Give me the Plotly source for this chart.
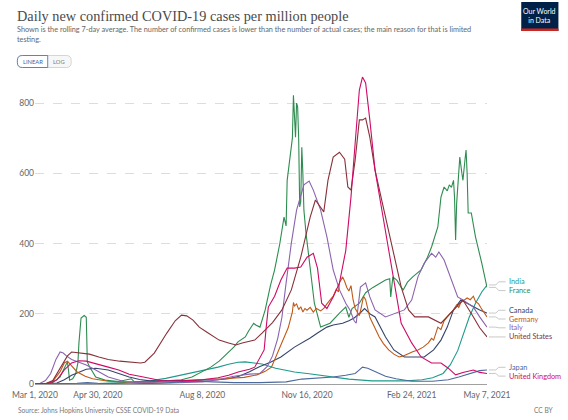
import pandas as pd
import plotly.graph_objects as go

# ---------------- data (day offsets from 2020-03-01, cases per million, 7-day avg) -------------
BASE_DATE = "2020-03-01"
END_DATE = "2021-05-07"

india_days = [0, 60, 90, 110, 125, 140, 155, 164, 175, 185, 194, 201, 210, 217, 230, 248, 262, 280,
              300, 322, 340, 355, 370, 380, 390, 397, 404, 409, 415, 421, 427, 432]
india_vals = [0, 1, 5, 9, 16, 25, 36, 40, 48, 56, 62, 63, 60, 57, 45, 34, 29, 22,
              14, 9, 8, 9, 12, 18, 30, 55, 95, 140, 190, 230, 262, 282]

france_days = [0, 10, 17, 24, 28, 31, 32, 33, 36, 39, 41, 42, 44, 47, 49, 50, 52, 58, 67, 80, 92,
               95, 110, 125, 140, 150, 160, 168, 176, 185, 190, 194, 201, 204, 209, 211, 215, 220,
               225, 229, 234, 238, 240, 241, 244, 246, 247, 248, 249, 250, 251, 252, 253, 254, 255,
               256, 257, 259, 262, 267, 273, 282, 291, 297, 300, 303, 310, 316, 323, 330, 335, 339,
               340, 342, 346, 350, 352, 356, 361, 369, 375, 379, 385, 388, 391, 394, 396, 398, 400,
               401, 402, 403, 405, 406, 408, 409, 411, 412, 413, 414, 417, 421, 427, 432]
france_vals = [0, 0.5, 4, 20, 45, 63, 40, 11, 15, 30, 60, 117, 188, 195, 190, 63, 50, 20, 11, 7, 15,
               6, 6, 8, 12, 20, 35, 48, 65, 91, 105, 120, 134, 150, 173, 168, 162, 211,
               280, 325, 400, 475, 450, 580, 646, 700, 822, 760, 703, 800, 790, 700, 504, 520, 674,
               600, 495, 430, 361, 230, 162, 173, 202, 219, 190, 215, 230, 260, 275, 288, 296, 300,
               248, 305, 295, 275, 268, 290, 305, 325, 360, 390, 447, 532, 561, 550, 567, 560, 580,
               530, 410, 515, 600, 646, 600, 580, 640, 666, 600, 487, 487, 419, 344, 275]

canada_days = [0, 14, 21, 28, 35, 42, 49, 58, 70, 80, 90, 100, 110, 125, 140, 160, 175, 185,
               195, 205, 215, 225, 235, 248, 256, 263, 270, 279, 285, 294, 300, 305, 310, 315,
               320, 325, 335, 343, 353, 363, 372, 381, 388, 394, 400, 407, 413, 419, 425, 432]
canada_vals = [0, 0.5, 3, 12, 25, 34, 42, 45, 40, 30, 20, 13, 9, 9, 10, 10, 12, 15,
               22, 35, 50, 62, 77, 105, 118, 131, 145, 162, 168, 173, 180, 188, 200, 215,
               200, 191, 134, 97, 77, 77, 77, 97, 125, 162, 211, 239, 230, 219, 211, 202]

germany_days = [0, 10, 17, 24, 28, 31, 34, 40, 48, 55, 61, 70, 85, 110, 140, 160, 180, 200, 212,
                220, 226, 232, 238, 242, 246, 247, 248, 250, 252, 254, 256, 258, 260, 263, 266,
                269, 273, 276, 279, 282, 285, 288, 290, 291, 293, 294, 296, 298, 300, 302, 304, 306,
                308, 310, 312, 314, 316, 318, 320, 324, 329, 333, 338, 343, 348, 352, 357, 361, 366,
                371, 376, 379, 381, 385, 388, 391, 394, 397, 400, 403, 405, 407, 410, 413, 416, 419,
                421, 424, 426, 429, 432]
germany_vals = [0, 1, 8, 35, 60, 65, 55, 35, 22, 15, 12, 8, 6, 5, 7, 13, 15, 19, 26,
                36, 48, 90, 130, 160, 205, 232, 222, 228, 212, 220, 205, 215, 210, 218, 205,
                215, 208, 215, 228, 240, 250, 270, 262, 288, 298, 305, 292, 275, 265, 280, 240, 215,
                205, 195, 220, 250, 240, 210, 190, 165, 134, 115, 97, 85, 77, 80, 88, 92, 97,
                105, 117, 130, 125, 162, 155, 180, 191, 200, 211, 225, 218, 232, 238, 245, 240, 250,
                235, 228, 218, 205, 191]

italy_days = [0, 5, 10, 15, 20, 24, 27, 30, 35, 42, 49, 58, 70, 85, 100, 130, 160, 175, 190, 205,
              215, 222, 227, 232, 236, 240, 245, 250, 257, 262, 266, 273, 279, 285, 291, 297, 301,
              305, 307, 311, 316, 320, 325, 335, 344, 353, 360, 366, 372, 379, 383, 386, 391, 397,
              404, 409, 414, 419, 425, 432]
italy_vals = [0.5, 2, 10, 30, 70, 91, 88, 80, 70, 62, 54, 40, 20, 7, 4, 3, 6, 12, 22, 28,
              30, 50, 80, 130, 190, 288, 401, 495, 567, 578, 552, 495, 419, 325, 268, 230, 211,
              180, 173, 276, 288, 248, 211, 191, 202, 211, 239, 305, 344, 372, 361, 376, 353, 305,
              248, 239, 228, 219, 191, 162]

us_days = [0, 10, 17, 24, 31, 35, 45, 52, 61, 70, 81, 90, 101, 105, 114, 126, 134, 140, 145, 151,
           157, 164, 176, 185, 192, 198, 210, 217, 227, 236, 245, 254, 263, 268, 273, 276, 280, 285,
           291, 296, 299, 302, 306, 310, 313, 316, 320, 325, 332, 338, 344, 350, 357, 363, 370, 376,
           388, 400, 409, 419, 425, 432]
us_vals = [0, 1, 10, 45, 80, 91, 88, 85, 77, 70, 65, 63, 60, 62, 88, 145, 180, 196, 194, 182,
           162, 148, 125, 117, 111, 117, 125, 145, 175, 211, 268, 361, 475, 524, 504, 490, 580, 646,
           660, 640, 561, 552, 638, 752, 752, 757, 703, 609, 515, 438, 353, 276, 211, 191, 191, 191,
           173, 211, 239, 191, 160, 134]

japan_days = [0, 30, 40, 50, 60, 90, 120, 140, 155, 170, 190, 215, 240, 255, 270, 285, 297, 306,
              310, 313, 318, 325, 335, 345, 360, 380, 395, 405, 415, 425, 432]
japan_vals = [0, 0.5, 2, 4, 2, 0.5, 2, 6, 8, 6, 4, 4, 6, 14, 17, 20, 25, 30,
              40, 48, 45, 35, 22, 15, 8, 8, 12, 20, 30, 38, 40]

uk_days = [0, 14, 21, 28, 35, 42, 49, 56, 63, 70, 80, 90, 100, 110, 120, 140, 160, 175, 185, 195,
           205, 210, 216, 219, 221, 223, 229, 235, 241, 248, 254, 260, 266, 270, 274, 279, 285, 291,
           297, 302, 306, 310, 313, 316, 320, 325, 332, 341, 350, 360, 369, 379, 388, 395, 402, 409,
           419, 425, 432]
uk_vals = [0, 2, 12, 40, 60, 66, 65, 60, 55, 48, 40, 28, 22, 15, 10, 9, 12, 18, 25, 35,
           42, 48, 80, 97, 162, 219, 250, 296, 330, 330, 333, 361, 372, 330, 230, 215, 248, 288,
           380, 532, 686, 837, 874, 857, 752, 609, 487, 325, 173, 117, 77, 60, 60, 45, 26, 33,
           40, 33, 30]

countries = ["India", "France", "Canada", "Germany", "Italy", "United States", "Japan", "United Kingdom"]
series_days = [india_days, france_days, canada_days, germany_days, italy_days, us_days, japan_days, uk_days]
series_vals = [india_vals, france_vals, canada_vals, germany_vals, italy_vals, us_vals, japan_vals, uk_vals]
colors = ["#1f9a8c", "#2e8c50", "#34446a", "#C05917", "#8a63ad", "#883039", "#4C6A9C", "#CF0A66"]

tick_dates = ["2020-03-01", "2020-04-30", "2020-08-08", "2020-11-16", "2021-02-24", "2021-05-07"]
tick_text = ["Mar 1, 2020", "Apr 30, 2020", "Aug 8, 2020", "Nov 16, 2020", "Feb 24, 2021", "May 7, 2021"]
y_ticks = [0, 200, 400, 600, 800]

# ---------------- layout geometry ----------------
W, H = 568, 420
ML, MR, MT, MB = 25, 81, 76, 36
PW, PH = W - ML - MR, H - MT - MB


def fx(x):
    return (x - ML) / PW


def fy(y):
    return (H - MB - y) / PH


base = pd.Timestamp(BASE_DATE)
fig = go.Figure()
for name, d, v, c in zip(countries, series_days, series_vals, colors):
    dates = [base + pd.Timedelta(days=k) for k in d]
    fig.add_trace(go.Scatter(x=dates, y=v, mode="lines", name=name,
                             line=dict(color=c, width=1.1), hoverinfo="skip"))

# ---------------- end labels with de-overlap ----------------
ends = [(i, series_vals[i][-1]) for i in range(len(countries))]
order = sorted(range(len(ends)), key=lambda i: -ends[i][1])
pos = {i: ends[i][1] for i in order}
gap = 25
for _ in range(200):
    moved = False
    for a, b in zip(order[:-1], order[1:]):
        if pos[a] - pos[b] < gap:
            shift = (gap - (pos[a] - pos[b])) / 2
            pos[a] += shift
            pos[b] -= shift
            moved = True
    if not moved:
        break

shapes = []
annotations = []
for i in order:
    yend = ends[i][1]
    ylab = pos[i]
    x0, x1, x2, x3 = fx(489), fx(496), fx(499), fx(506)
    shapes.append(dict(type="path", xref="paper", yref="y",
                       path=f"M {x0},{yend} L {x1},{yend} L {x2},{ylab} L {x3},{ylab}",
                       line=dict(color="#bbbbbb", width=0.8)))
    annotations.append(dict(xref="paper", yref="y", x=fx(507), y=ylab, xanchor="left",
                            yanchor="middle", text=countries[i], showarrow=False,
                            font=dict(family="Lato", size=7.3, color=colors[i])))

# ---------------- header / footer ----------------
annotations.append(dict(xref="paper", yref="paper", x=fx(5), y=fy(16), xanchor="left",
                        yanchor="middle", showarrow=False,
                        text="Daily new confirmed COVID-19 cases per million people",
                        font=dict(family="Liberation Serif", size=14.3, color="#4a4a4a")))
annotations.append(dict(xref="paper", yref="paper", x=fx(5), y=fy(29.5), xanchor="left",
                        yanchor="middle", showarrow=False,
                        text="Shown is the rolling 7-day average. The number of confirmed cases is lower than the number of actual cases; the main reason for that is limited",
                        font=dict(family="Lato", size=7.3, color="#666666")))
annotations.append(dict(xref="paper", yref="paper", x=fx(5), y=fy(39.5), xanchor="left",
                        yanchor="middle", showarrow=False, text="testing.",
                        font=dict(family="Lato", size=7.3, color="#666666")))
annotations.append(dict(xref="paper", yref="paper", x=fx(6), y=fy(410), xanchor="left",
                        yanchor="middle", showarrow=False,
                        text="Source: Johns Hopkins University CSSE COVID-19 Data",
                        font=dict(family="Lato", size=6.6, color="#777777")))
annotations.append(dict(xref="paper", yref="paper", x=fx(558), y=fy(410), xanchor="right",
                        yanchor="middle", showarrow=False, text="CC BY",
                        font=dict(family="Lato", size=6.6, color="#777777")))

# LINEAR / LOG toggle


def pill(xa, xb, ya, yb, r, left_round=True, right_round=True):
    p = []
    if left_round:
        p.append(f"M {fx(xa + r)},{fy(ya)}")
    else:
        p.append(f"M {fx(xa)},{fy(ya)}")
    if right_round:
        p.append(f"L {fx(xb - r)},{fy(ya)} Q {fx(xb)},{fy(ya)} {fx(xb)},{fy(ya + r)}")
        p.append(f"L {fx(xb)},{fy(yb - r)} Q {fx(xb)},{fy(yb)} {fx(xb - r)},{fy(yb)}")
    else:
        p.append(f"L {fx(xb)},{fy(ya)} L {fx(xb)},{fy(yb)}")
    if left_round:
        p.append(f"L {fx(xa + r)},{fy(yb)} Q {fx(xa)},{fy(yb)} {fx(xa)},{fy(yb - r)}")
        p.append(f"L {fx(xa)},{fy(ya + r)} Q {fx(xa)},{fy(ya)} {fx(xa + r)},{fy(ya)} Z")
    else:
        p.append(f"L {fx(xa)},{fy(yb)} Z")
    return " ".join(p)


shapes.append(dict(type="path", xref="paper", yref="paper", path=pill(7, 62, 55.5, 67.5, 5),
                   line=dict(color="#cccccc", width=0.8), fillcolor="#f7f7f7"))
shapes.append(dict(type="path", xref="paper", yref="paper",
                   path=pill(7, 38, 55.5, 67.5, 5, True, False),
                   line=dict(color="#4a78b8", width=0.9), fillcolor="#ffffff"))
annotations.append(dict(xref="paper", yref="paper", x=fx(22.5), y=fy(61.5), xanchor="center",
                        yanchor="middle", showarrow=False, text="LINEAR",
                        font=dict(family="Lato", size=5.8, color="#3b67a8")))
annotations.append(dict(xref="paper", yref="paper", x=fx(50), y=fy(61.5), xanchor="center",
                        yanchor="middle", showarrow=False, text="LOG",
                        font=dict(family="Lato", size=5.8, color="#777777")))

# OWID logo
shapes.append(dict(type="rect", xref="paper", yref="paper", x0=fx(522), x1=fx(560),
                   y0=fy(31), y1=fy(2), fillcolor="#002147", line=dict(width=0)))
shapes.append(dict(type="rect", xref="paper", yref="paper", x0=fx(522), x1=fx(560),
                   y0=fy(31), y1=fy(28.5), fillcolor="#ce261e", line=dict(width=0)))
annotations.append(dict(xref="paper", yref="paper", x=fx(541), y=fy(15), xanchor="center",
                        yanchor="middle", showarrow=False, text="Our World<br>in Data",
                        font=dict(family="Lato", size=7, color="#ffffff")))

fig.update_layout(
    width=W, height=H, margin=dict(l=ML, r=MR, t=MT, b=MB, pad=0),
    paper_bgcolor="white", plot_bgcolor="white", showlegend=False,
    shapes=shapes, annotations=annotations,
    xaxis=dict(type="date", range=[BASE_DATE, END_DATE], tickvals=tick_dates, ticktext=tick_text,
               showgrid=False, zeroline=False, showline=True, linecolor="#a0a0a0", linewidth=1,
               ticks="", ticklabelstandoff=3,
               tickfont=dict(family="Lato", size=8.5, color="#666666")),
    yaxis=dict(range=[0, 877], tickvals=y_ticks, showgrid=True, gridcolor="#dddddd",
               griddash="dash", gridwidth=0.8, zeroline=False, showline=False, ticks="",
               tickfont=dict(family="Lato", size=8.5, color="#666666")),
)

fig.write_html("out.html", config={"displayModeBar": False},
               post_script="document.body.style.margin='0px';")
